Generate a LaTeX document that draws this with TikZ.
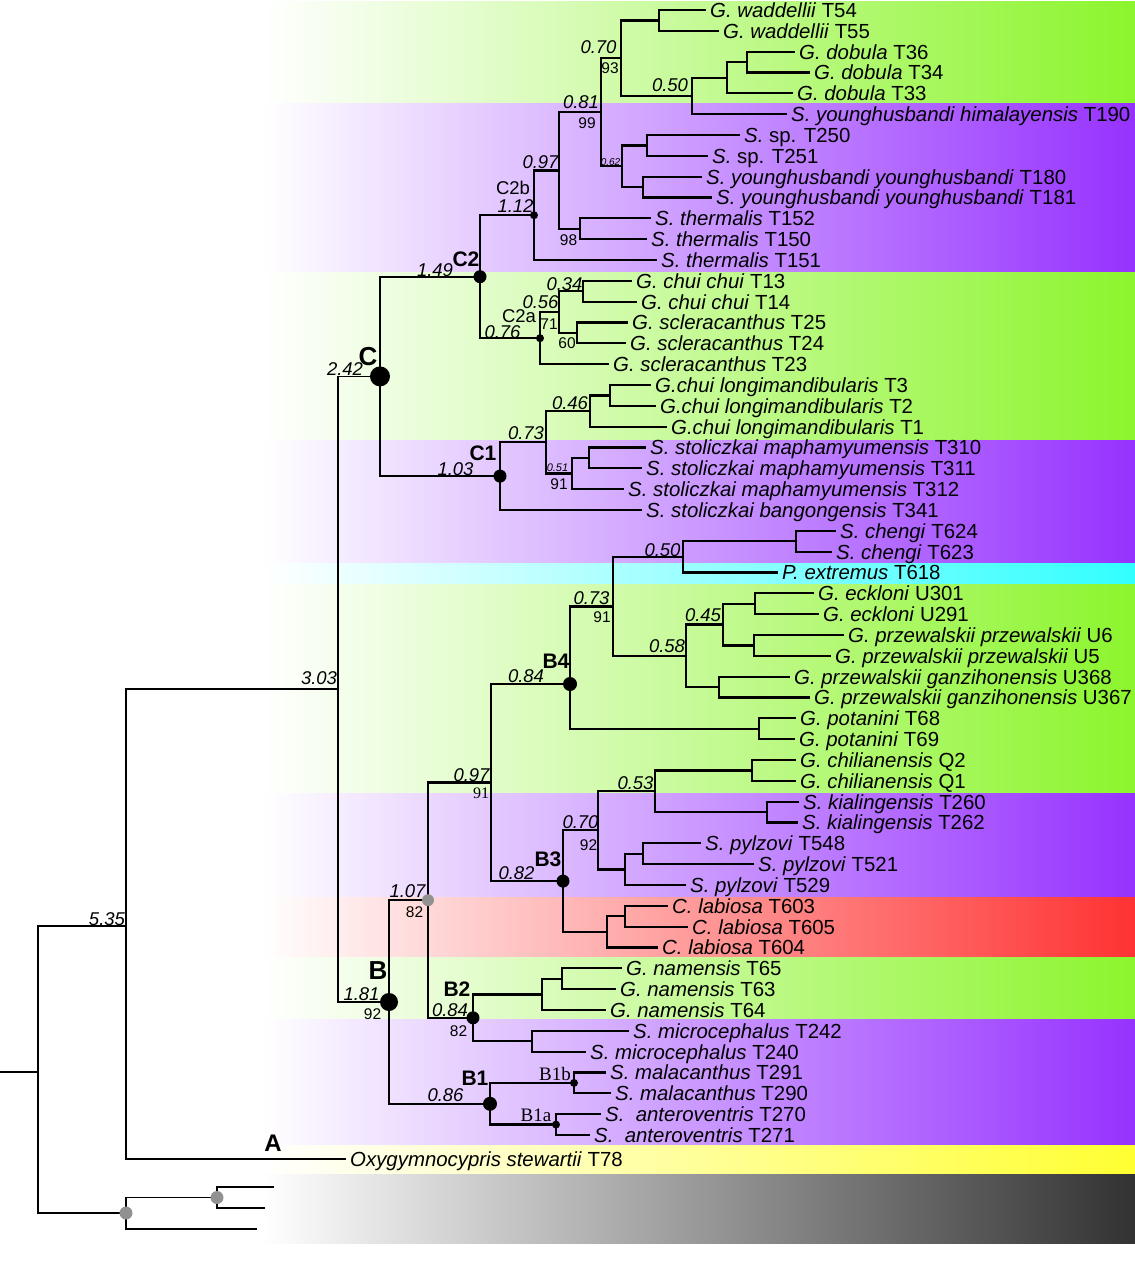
\documentclass[tikz,border=0pt]{standalone}
\usepackage{fontspec}
\setmainfont{Liberation Sans}
\newfontfamily\tmsfont{Liberation Serif}
\definecolor{bgreen}{RGB}{140,245,45}
\definecolor{bpurple}{RGB}{150,50,255}
\definecolor{bcyan}{RGB}{50,255,255}
\definecolor{bred}{RGB}{255,50,50}
\definecolor{byellow}{RGB}{255,255,50}
\definecolor{bgray}{RGB}{50,50,50}
\definecolor{dotgray}{RGB}{145,145,145}
\tikzset{
  br/.style={line width=2.3pt},
  obr/.style={line width=1.8pt},
  leaf/.style={anchor=west, inner xsep=4pt, inner ysep=0pt, text height=18pt, text depth=3.4pt, font=\fontsize{20.4}{24}\selectfont},
  pp/.style={inner sep=0pt, font=\fontsize{18.5}{20}\selectfont\itshape},
  ppt/.style={inner sep=0pt, font=\fontsize{10}{11}\selectfont\itshape},
  pps/.style={inner sep=0pt, font=\fontsize{11}{12}\selectfont\itshape},
  bs/.style={inner sep=0pt, font=\fontsize{15.5}{17}\selectfont},
  bss/.style={inner sep=0pt, font=\fontsize{16}{18}\selectfont\tmsfont},
  cl/.style={inner sep=0pt, font=\fontsize{21}{23}\selectfont\bfseries},
  clbig/.style={inner sep=0pt, font=\fontsize{26}{28}\selectfont\bfseries},
  subcl/.style={inner sep=0pt, font=\fontsize{18.5}{20}\selectfont},
  subcls/.style={inner sep=0pt, font=\fontsize{19}{21}\selectfont\tmsfont},
  bdot/.style={circle, fill=black, inner sep=0pt, minimum size=#1},
  gdot/.style={circle, fill=dotgray, inner sep=0pt, minimum size=#1},
  band/.style={left color=white, right color=#1}
}
\begin{document}
\begin{tikzpicture}[x=1pt,y=-1pt]
\useasboundingbox (0,0) rectangle (1135,1280);
\fill[white] (0,0) rectangle (1135,1280);
% background bands
\shade[band=bgreen] (262,1) rectangle (1135,103);
\shade[band=bpurple] (262,103) rectangle (1135,272);
\shade[band=bgreen] (262,272) rectangle (1135,440);
\shade[band=bpurple] (262,440) rectangle (1135,563);
\shade[band=bcyan] (262,563) rectangle (1135,584);
\shade[band=bgreen] (262,584) rectangle (1135,793);
\shade[band=bpurple] (262,793) rectangle (1135,897);
\shade[band=bred] (262,897) rectangle (1135,957);
\shade[band=bgreen] (262,957) rectangle (1135,1019);
\shade[band=bpurple] (262,1019) rectangle (1135,1145);
\shade[band=byellow] (262,1145) rectangle (1135,1174);
\shade[band=bgray] (262,1174) rectangle (1135,1243);
% leaves
\node[leaf] (L1) at (706,10.0) {\textit{G. waddellii} T54};
\node[leaf] (L2) at (719,30.8) {\textit{G. waddellii} T55};
\node[leaf] (L3) at (795,51.7) {\textit{G. dobula} T36};
\node[leaf] (L4) at (810,72.5) {\textit{G. dobula} T34};
\node[leaf] (L5) at (793,93.3) {\textit{G. dobula} T33};
\node[leaf] (L6) at (787,114.2) {\textit{S. younghusbandi himalayensis} T190};
\node[leaf] (L7) at (740,135.0) {\textit{S.} sp. T250};
\node[leaf] (L8) at (708,155.8) {\textit{S.} sp. T251};
\node[leaf] (L9) at (702,176.7) {\textit{S. younghusbandi younghusbandi} T180};
\node[leaf] (L10) at (712,197.5) {\textit{S. younghusbandi younghusbandi} T181};
\node[leaf] (L11) at (651,218.3) {\textit{S. thermalis} T152};
\node[leaf] (L12) at (647,239.2) {\textit{S. thermalis} T150};
\node[leaf] (L13) at (657,260.0) {\textit{S. thermalis} T151};
\node[leaf] (L14) at (632,280.8) {\textit{G. chui chui} T13};
\node[leaf] (L15) at (637,301.7) {\textit{G. chui chui} T14};
\node[leaf] (L16) at (628,322.5) {\textit{G. scleracanthus} T25};
\node[leaf] (L17) at (626,343.3) {\textit{G. scleracanthus} T24};
\node[leaf] (L18) at (609,364.2) {\textit{G. scleracanthus} T23};
\node[leaf] (L19) at (651,385.0) {\textit{G.chui longimandibularis} T3};
\node[leaf] (L20) at (656,405.8) {\textit{G.chui longimandibularis} T2};
\node[leaf] (L21) at (667,426.7) {\textit{G.chui longimandibularis} T1};
\node[leaf] (L22) at (646,447.5) {\textit{S. stoliczkai maphamyumensis} T310};
\node[leaf] (L23) at (642,468.3) {\textit{S. stoliczkai maphamyumensis} T311};
\node[leaf] (L24) at (624,489.2) {\textit{S. stoliczkai maphamyumensis} T312};
\node[leaf] (L25) at (642,510.0) {\textit{S. stoliczkai bangongensis} T341};
\node[leaf] (L26) at (836,530.8) {\textit{S. chengi} T624};
\node[leaf] (L27) at (832,551.7) {\textit{S. chengi} T623};
\node[leaf] (L28) at (778,572.5) {\textit{P. extremus} T618};
\node[leaf] (L29) at (814,593.3) {\textit{G. eckloni} U301};
\node[leaf] (L30) at (819,614.2) {\textit{G. eckloni} U291};
\node[leaf] (L31) at (844,635.0) {\textit{G. przewalskii przewalskii} U6};
\node[leaf] (L32) at (831,655.8) {\textit{G. przewalskii przewalskii} U5};
\node[leaf] (L33) at (790,676.7) {\textit{G. przewalskii ganzihonensis} U368};
\node[leaf] (L34) at (810,697.5) {\textit{G. przewalskii ganzihonensis} U367};
\node[leaf] (L35) at (796,718.3) {\textit{G. potanini} T68};
\node[leaf] (L36) at (795,739.2) {\textit{G. potanini} T69};
\node[leaf] (L37) at (796,760.0) {\textit{G. chilianensis} Q2};
\node[leaf] (L38) at (796,780.8) {\textit{G. chilianensis} Q1};
\node[leaf] (L39) at (799,801.7) {\textit{S. kialingensis} T260};
\node[leaf] (L40) at (798,822.5) {\textit{S. kialingensis} T262};
\node[leaf] (L41) at (701,843.3) {\textit{S. pylzovi} T548};
\node[leaf] (L42) at (754,864.2) {\textit{S. pylzovi} T521};
\node[leaf] (L43) at (686,885.0) {\textit{S. pylzovi} T529};
\node[leaf] (L44) at (668,905.8) {\textit{C. labiosa} T603};
\node[leaf] (L45) at (688,926.7) {\textit{C. labiosa} T605};
\node[leaf] (L46) at (658,947.5) {\textit{C. labiosa} T604};
\node[leaf] (L47) at (622,968.3) {\textit{G. namensis} T65};
\node[leaf] (L48) at (616,989.2) {\textit{G. namensis} T63};
\node[leaf] (L49) at (606,1010.0) {\textit{G. namensis} T64};
\node[leaf] (L50) at (629,1030.8) {\textit{S. microcephalus} T242};
\node[leaf] (L51) at (586,1051.7) {\textit{S. microcephalus} T240};
\node[leaf] (L52) at (606,1072.5) {\textit{S. malacanthus} T291};
\node[leaf] (L53) at (611,1093.3) {\textit{S. malacanthus} T290};
\node[leaf] (L54) at (601,1114.2) {\textit{S.\ \ anteroventris} T270};
\node[leaf] (L55) at (590,1135.0) {\textit{S.\ \ anteroventris} T271};
\node[leaf] (L56) at (346,1159) {\textit{Oxygymnocypris stewartii} T78};
% internal nodes
\coordinate (n5455) at (659,20.4);
\coordinate (n3634) at (747,62.1);
\coordinate (n33) at (727,77.7);
\coordinate (n050a) at (692,95.9);
\coordinate (n070a) at (621,58.2);
\coordinate (n250) at (647,145.4);
\coordinate (n180) at (643,187.1);
\coordinate (n062) at (622,166.3);
\coordinate (n081) at (601,112.2);
\coordinate (n098) at (580,228.8);
\coordinate (n097a) at (559,170.5);
\coordinate (C2b) at (534,215.2);
\coordinate (n1314) at (583,291.3);
\coordinate (n060) at (577,332.9);
\coordinate (n056) at (559,312.1);
\coordinate (C2a) at (540,338.2);
\coordinate (C2) at (480,276.7);
\coordinate (n32) at (610,395.4);
\coordinate (n046) at (590,411.0);
\coordinate (n310) at (589,457.9);
\coordinate (n051) at (572,473.6);
\coordinate (n073a) at (546,442.3);
\coordinate (C1) at (500,476.1);
\coordinate (C) at (380,376.4);
\coordinate (nch) at (796,541.3);
\coordinate (n050b) at (683,556.9);
\coordinate (neck) at (755,603.8);
\coordinate (nU65) at (754,645.4);
\coordinate (n045) at (723,624.6);
\coordinate (nU36) at (719,687.1);
\coordinate (n058) at (686,655.9);
\coordinate (n073b) at (613,606.4);
\coordinate (npot) at (759,728.8);
\coordinate (B4) at (570,684);
\coordinate (nQ) at (752,770.4);
\coordinate (nkia) at (767,812.1);
\coordinate (n053) at (655,791.3);
\coordinate (n548) at (643,853.8);
\coordinate (npyl) at (625,869.4);
\coordinate (n070b) at (598,830.3);
\coordinate (n603) at (625,916.3);
\coordinate (nlab) at (607,931.9);
\coordinate (B3) at (563,881.1);
\coordinate (n097b) at (491,782.6);
\coordinate (n6563) at (562,978.8);
\coordinate (nnam) at (542,994.4);
\coordinate (nmic) at (532,1041.3);
\coordinate (B2) at (473,1017.8);
\coordinate (n107) at (428,900.2);
\coordinate (B1b) at (574,1082.9);
\coordinate (B1a) at (556,1124.6);
\coordinate (B1) at (490,1103.8);
\coordinate (B) at (389,1002.0);
\coordinate (nCB) at (338,689.2);
\coordinate (n535) at (126,926);
\coordinate (root) at (38,1072);
\coordinate (rootend) at (0,1072);
\coordinate (og1) at (126,1213);
\coordinate (og2) at (217,1197.5);
\coordinate (ogL1) at (274,1187);
\coordinate (ogL2) at (265,1208);
\coordinate (ogL3) at (257,1229);
% branches
\draw[br] (n5455) |- (L1) (n5455) |- (L2);
\draw[br] (n3634) |- (L3) (n3634) |- (L4);
\draw[br] (n33) |- (n3634) (n33) |- (L5);
\draw[br] (n050a) |- (n33) (n050a) |- (L6);
\draw[br] (n070a) |- (n5455) (n070a) |- (n050a);
\draw[br] (n250) |- (L7) (n250) |- (L8);
\draw[br] (n180) |- (L9) (n180) |- (L10);
\draw[br] (n062) |- (n250) (n062) |- (n180);
\draw[br] (n081) |- (n070a) (n081) |- (n062);
\draw[br] (n098) |- (L11) (n098) |- (L12);
\draw[br] (n097a) |- (n081) (n097a) |- (n098);
\draw[br] (C2b) |- (n097a) (C2b) |- (L13);
\draw[br] (n1314) |- (L14) (n1314) |- (L15);
\draw[br] (n060) |- (L16) (n060) |- (L17);
\draw[br] (n056) |- (n1314) (n056) |- (n060);
\draw[br] (C2a) |- (n056) (C2a) |- (L18);
\draw[br] (C2) |- (C2b) (C2) |- (C2a);
\draw[br] (n32) |- (L19) (n32) |- (L20);
\draw[br] (n046) |- (n32) (n046) |- (L21);
\draw[br] (n310) |- (L22) (n310) |- (L23);
\draw[br] (n051) |- (n310) (n051) |- (L24);
\draw[br] (n073a) |- (n046) (n073a) |- (n051);
\draw[br] (C1) |- (n073a) (C1) |- (L25);
\draw[br] (C) |- (C2) (C) |- (C1);
\draw[br] (nch) |- (L26) (nch) |- (L27);
\draw[br] (n050b) |- (nch) (n050b) |- (L28);
\draw[br] (neck) |- (L29) (neck) |- (L30);
\draw[br] (nU65) |- (L31) (nU65) |- (L32);
\draw[br] (n045) |- (neck) (n045) |- (nU65);
\draw[br] (nU36) |- (L33) (nU36) |- (L34);
\draw[br] (n058) |- (n045) (n058) |- (nU36);
\draw[br] (n073b) |- (n050b) (n073b) |- (n058);
\draw[br] (npot) |- (L35) (npot) |- (L36);
\draw[br] (B4) |- (n073b) (B4) |- (npot);
\draw[br] (nQ) |- (L37) (nQ) |- (L38);
\draw[br] (nkia) |- (L39) (nkia) |- (L40);
\draw[br] (n053) |- (nQ) (n053) |- (nkia);
\draw[br] (n548) |- (L41) (n548) |- (L42);
\draw[br] (npyl) |- (n548) (npyl) |- (L43);
\draw[br] (n070b) |- (n053) (n070b) |- (npyl);
\draw[br] (n603) |- (L44) (n603) |- (L45);
\draw[br] (nlab) |- (n603) (nlab) |- (L46);
\draw[br] (B3) |- (n070b) (B3) |- (nlab);
\draw[br] (n097b) |- (B4) (n097b) |- (B3);
\draw[br] (n6563) |- (L47) (n6563) |- (L48);
\draw[br] (nnam) |- (n6563) (nnam) |- (L49);
\draw[br] (nmic) |- (L50) (nmic) |- (L51);
\draw[br] (B2) |- (nnam) (B2) |- (nmic);
\draw[br] (n107) |- (n097b) (n107) |- (B2);
\draw[br] (B1b) |- (L52) (B1b) |- (L53);
\draw[br] (B1a) |- (L54) (B1a) |- (L55);
\draw[br] (B1) |- (B1b) (B1) |- (B1a);
\draw[br] (B) |- (n107) (B) |- (B1);
\draw[obr] (nCB) |- (C) (nCB) |- (B);
\draw[obr] (n535) |- (nCB) (n535) |- (L56);
\draw[obr] (root) |- (n535) (root) |- (og1);
\draw[obr] (rootend) -- (root);
\draw[obr] (og2) |- (ogL1) (og2) |- (ogL2);
\draw[obr] (og1) |- (og2) (og1) |- (ogL3);
% node dots
\node[bdot=20pt] (dC) at (C) {};
\node[bdot=18pt] (dB) at (B) {};
\node[bdot=13pt] (dC2) at (C2) {};
\node[bdot=13pt] (dC1) at (C1) {};
\node[bdot=14pt] (dB4) at (B4) {};
\node[bdot=13pt] (dB3) at (B3) {};
\node[bdot=13pt] (dB2) at (B2) {};
\node[bdot=14pt] (dB1) at (B1) {};
\node[bdot=8pt] (dC2b) at (C2b) {};
\node[bdot=8pt] (dC2a) at (C2a) {};
\node[bdot=8pt] (dB1b) at (B1b) {};
\node[bdot=8pt] (dB1a) at (B1a) {};
\node[gdot=12pt] (d107) at (n107) {};
\node[gdot=13pt] (dog1) at (og1) {};
\node[gdot=13pt] (dog2) at (og2) {};
% posterior labels
\node[pp] (p1) at (107,919) {5.35};
\node[pp] (p2) at (319,678) {3.03};
\node[pp] (p3) at (345,369) {2.42};
\node[pp] (p4) at (361.5,994) {1.81};
\node[pp] (p5) at (435,270) {1.49};
\node[pp] (p6) at (455.5,469) {1.03};
\node[pp] (p7) at (515.5,206) {1.12};
\node[pp] (p8) at (540.5,162) {0.97};
\node[pp] (p9) at (581,102) {0.81};
\node[pp] (p10) at (598.5,47) {0.70};
\node[pp] (p11) at (670,85) {0.50};
\node[ppt] (p12) at (610.5,162) {0.62};
\node[pp] (p13) at (564.5,284) {0.34};
\node[pp] (p14) at (540.5,302) {0.56};
\node[pp] (p15) at (502.5,332) {0.76};
\node[pp] (p16) at (570,403) {0.46};
\node[pp] (p17) at (526,433) {0.73};
\node[pps] (p18) at (557.5,468) {0.51};
\node[pp] (p19) at (662.5,550) {0.50};
\node[pp] (p20) at (591.5,598) {0.73};
\node[pp] (p21) at (667,646) {0.58};
\node[pp] (p22) at (703,615) {0.45};
\node[pp] (p23) at (526,676) {0.84};
\node[pp] (p24) at (471.5,775) {0.97};
\node[pp] (p25) at (635.5,783) {0.53};
\node[pp] (p26) at (580.5,822) {0.70};
\node[pp] (p27) at (516.5,873) {0.82};
\node[pp] (p28) at (407.5,891) {1.07};
\node[pp] (p29) at (450,1010) {0.84};
\node[pp] (p30) at (445.5,1095) {0.86};
% bootstrap labels
\node[bs] (b1) at (372.5,1014) {92};
\node[bs] (b2) at (610,68) {93};
\node[bs] (b3) at (587,123) {99};
\node[bs] (b4) at (568.5,240) {98};
\node[bs] (b5) at (549,324) {71};
\node[bs] (b6) at (567,343) {60};
\node[bs] (b7) at (559,484) {91};
\node[bs] (b8) at (602,617) {91};
\node[bss] (b9) at (481,793) {91};
\node[bs] (b10) at (588.5,845) {92};
\node[bs] (b11) at (414.5,912) {82};
\node[bs] (b12) at (458.5,1031) {82};
% clade labels
\node[clbig] (cC) at (368,357) {C};
\node[clbig] (cB) at (378,971) {B};
\node[inner sep=0pt, font=\fontsize{24}{26}\selectfont\bfseries] (cA) at (273,1143) {A};
\node[cl] (cC2) at (466,259) {C2};
\node[cl] (cC1) at (483,453) {C1};
\node[cl] (cB4) at (556,661) {B4};
\node[cl] (cB3) at (548,859) {B3};
\node[cl] (cB2) at (457,989) {B2};
\node[cl] (cB1) at (475,1078) {B1};
\node[subcl] (cC2b) at (513,188) {C2b};
\node[subcl] (cC2a) at (519,316) {C2a};
\node[subcls] (cB1b) at (555,1074) {B1b};
\node[subcls] (cB1a) at (536,1115) {B1a};
\end{tikzpicture}
\end{document}
